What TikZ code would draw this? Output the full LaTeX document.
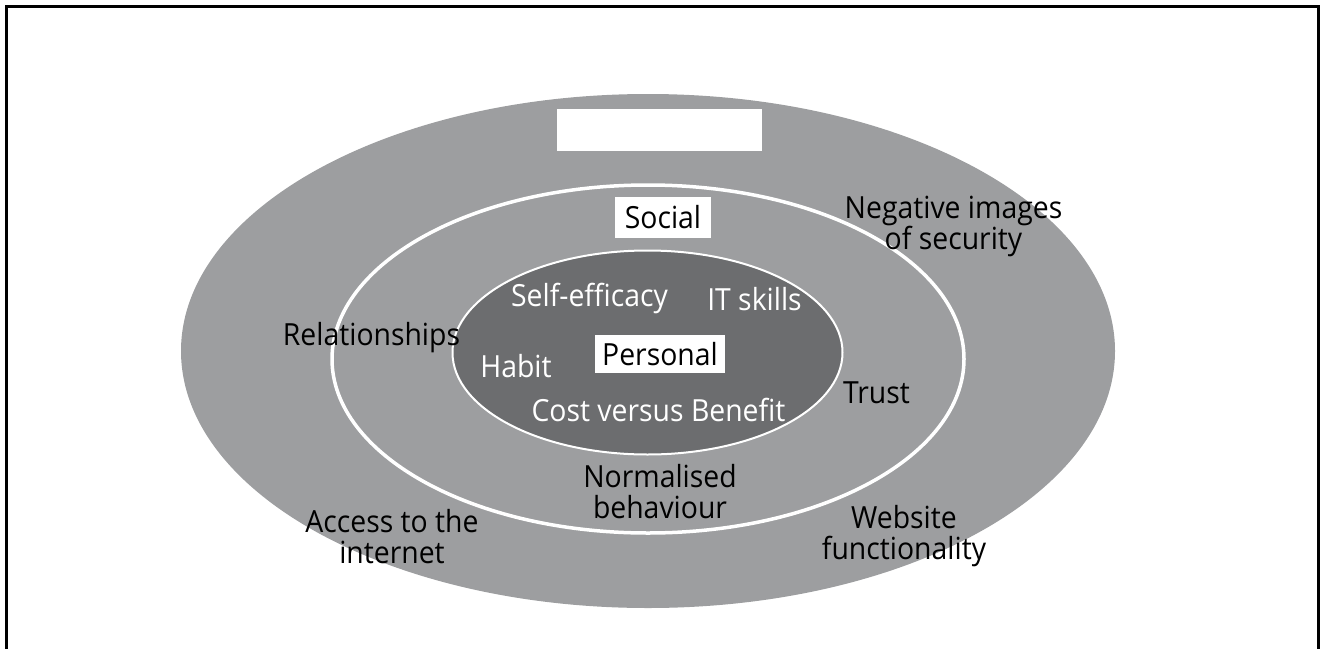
\documentclass[tikz,border=0pt]{standalone}
\usepackage{fontspec}
\setmainfont[FakeStretch=0.93]{Open Sans}
\definecolor{outergray}{RGB}{157,158,160}
\definecolor{innergray}{RGB}{108,109,111}
\begin{document}
\begin{tikzpicture}[x=1pt,y=-1pt,
  lbl/.style={font=\fontsize{30.5}{30}\selectfont, text=black, align=center, inner sep=0pt},
  wlbl/.style={lbl, text=white},
  tag/.style={lbl, fill=white, inner xsep=4pt, inner ysep=3pt},
  ml/.style={lbl, font=\fontsize{30.5}{31}\selectfont}]
\useasboundingbox (0,0) rectangle (1320,648);
\draw[line width=3pt] (6,650) -- (6,6) -- (1318.5,6) -- (1318.5,650);
% ellipses
\fill[outergray] (648,351) ellipse [x radius=467, y radius=257];
\draw[white, line width=3.5pt] (648,359) ellipse [x radius=316, y radius=174];
\filldraw[fill=innergray, draw=white, line width=2pt] (647.5,352.5) ellipse [x radius=195, y radius=102];
% boxes
\node[fill=white, minimum width=205pt, minimum height=42pt, inner sep=0pt] (title) at (659.5,130) {};
\node[tag, minimum width=96pt, minimum height=41pt] (social) at (663,217.5) {Social};
\node[tag, minimum width=130pt, minimum height=38pt] (personal) at (660,354) {Personal};
% personal factors
\node[wlbl] (self) at (589.5,298) {Self-efficacy};
\node[wlbl] (it) at (754.5,299) {IT skills};
\node[wlbl] (habit) at (516,366) {Habit};
\node[wlbl] (cost) at (658.5,410) {Cost versus Benefit};
% social factors
\node[lbl] (rel) at (371.5,338) {Relationships};
\node[lbl] (trust) at (876.5,393) {Trust};
\node[ml] (norm) at (660,492) {Normalised\\behaviour};
% outer factors
\node[ml] (neg) at (953.5,226) {Negative images\\of security};
\node[ml] (access) at (392,537) {Access to the\\internet};
\node[ml] (web) at (904,536) {Website\\functionality};
\end{tikzpicture}
\end{document}
